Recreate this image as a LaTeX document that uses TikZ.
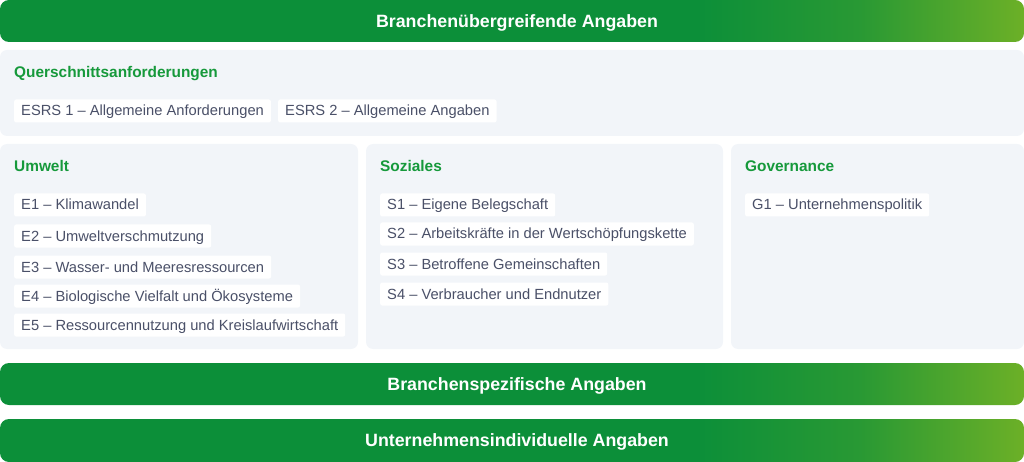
\documentclass[tikz,border=0pt]{standalone}
\usepackage{fontspec}
\setmainfont{Liberation Sans}
\definecolor{gdark}{HTML}{0C8F39}
\definecolor{glight}{HTML}{6CB027}
\definecolor{gtitle}{HTML}{16993B}
\definecolor{panelbg}{HTML}{F2F5F9}
\definecolor{itemtxt}{HTML}{4A5068}
\pgfdeclarehorizontalshading{barshade}{100bp}{color(0bp)=(gdark); color(25bp)=(gdark); color(59bp)=(gdark); color(67bp)=(gdark!70!glight); color(75bp)=(glight); color(100bp)=(glight)}
\tikzset{
  bar/.style={shading=barshade, rounded corners=9pt},
  bartext/.style={anchor=base, text=white, font=\fontsize{17.8}{20}\selectfont\bfseries},
  panel/.style={fill=panelbg, rounded corners=7pt},
  ptitle/.style={anchor=base west, text=gtitle, font=\fontsize{15.4}{18}\selectfont\bfseries, inner sep=0pt},
  item/.style={anchor=west, fill=white, text=itemtxt, font=\fontsize{14.7}{17}\selectfont, inner xsep=7pt, inner ysep=0pt, text height=12.5pt, text depth=2.5pt, minimum height=23pt, rounded corners=2pt}
}
\begin{document}
\begin{tikzpicture}[x=1pt,y=-1pt]
\useasboundingbox (0,0) rectangle (1024,462);
% bars
\shade[bar] (0,0) rectangle (1024,42);
\node[bartext] (b1) at (517,27.4) {Branchenübergreifende Angaben};
\shade[bar] (0,363) rectangle (1024,405);
\node[bartext] (b2) at (517,390.4) {Branchenspezifische Angaben};
\shade[bar] (0,419) rectangle (1024,462);
\node[bartext] (b3) at (517,446.4) {Unternehmensindividuelle Angaben};
% panels
\fill[panel] (0,50) rectangle (1024,136);
\fill[panel] (0,144) rectangle (358,349);
\fill[panel] (366,144) rectangle (723,349);
\fill[panel] (731,144) rectangle (1024,349);
% titles
\node[ptitle] (tq) at (14,78) {Querschnittsanforderungen};
\node[ptitle] (tu) at (14,172) {Umwelt};
\node[ptitle] (ts) at (380,172) {Soziales};
\node[ptitle] (tg) at (745,172) {Governance};
% items
\node[item] (esrs1) at (14,111) {ESRS 1 – Allgemeine Anforderungen};
\node[item] (esrs2) at (278,111) {ESRS 2 – Allgemeine Angaben};
\node[item] (e1) at (14,205) {E1 – Klimawandel};
\node[item] (e2) at (14,236) {E2 – Umweltverschmutzung};
\node[item] (e3) at (14,267) {E3 – Wasser- und Meeresressourcen};
\node[item] (e4) at (14,296) {E4 – Biologische Vielfalt und Ökosysteme};
\node[item] (e5) at (14,325) {E5 – Ressourcennutzung und Kreislaufwirtschaft};
\node[item] (s1) at (380,205) {S1 – Eigene Belegschaft};
\node[item] (s2) at (380,234) {S2 – Arbeitskräfte in der Wertschöpfungskette};
\node[item] (s3) at (380,264) {S3 – Betroffene Gemeinschaften};
\node[item] (s4) at (380,294) {S4 – Verbraucher und Endnutzer};
\node[item] (g1) at (745,205) {G1 – Unternehmenspolitik};
\end{tikzpicture}
\end{document}
